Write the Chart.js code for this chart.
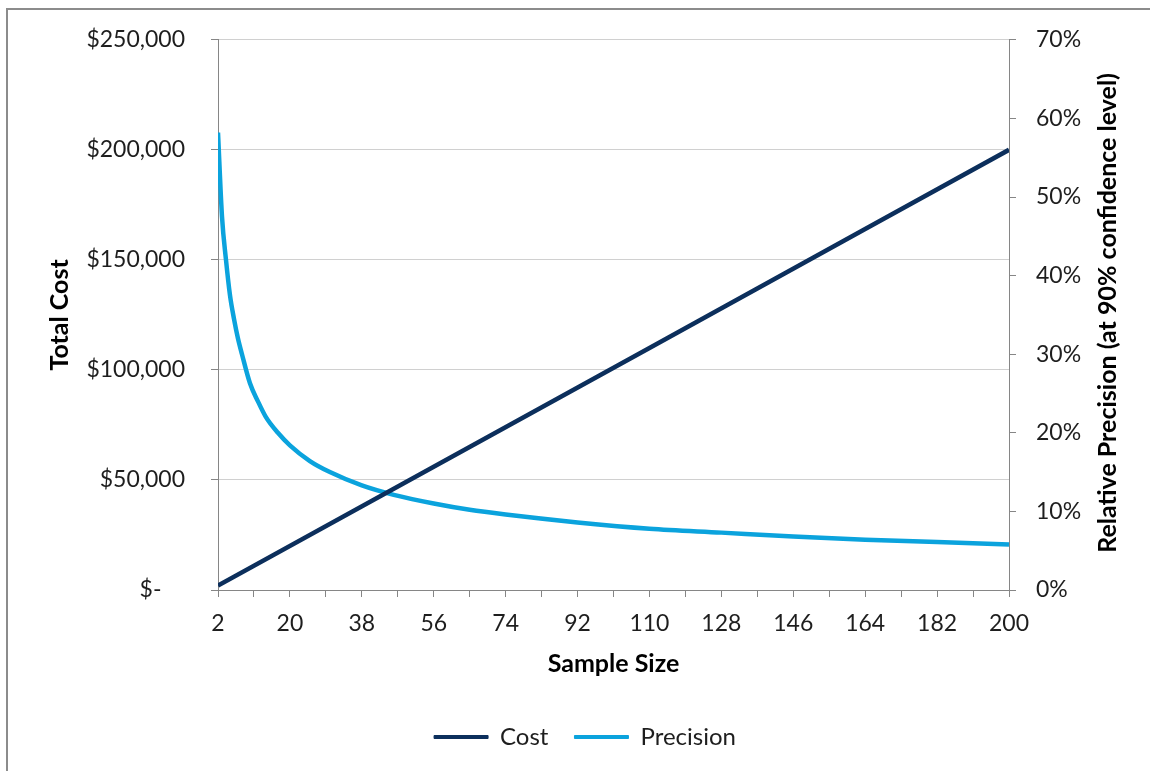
<!DOCTYPE html>
<html lang="en">
<head>
    <meta charset="UTF-8">
    <title>Sample Size: Cost vs Precision</title>
    <style>
        body {
            margin: 0;
            background: #fff;
        }

        .frame {
            position: absolute;
            left: 6px;
            top: 8px;
            width: 1200px;
            height: 800px;
            border-left: 2px solid #8c8c8c;
            border-top: 2px solid #8c8c8c;
        }

        .wrap {
            position: absolute;
            left: 0;
            top: 0;
            width: 1150px;
            height: 771px;
        }
    </style>
    <script src="https://cdn.jsdelivr.net/npm/chart.js"></script>
</head>
<body>
    <div class="frame"></div>
    <div class="wrap"><canvas id="chart" width="1150" height="771"></canvas></div>

    <script>
        // x axis: tick marks every 9, labels every 18
        const xTicks = [2, 11, 20, 29, 38, 47, 56, 65, 74, 83, 92, 101, 110, 119, 128, 137, 146, 155, 164, 173, 182, 191, 200];
        const xTickLabels = [2, 20, 38, 56, 74, 92, 110, 128, 146, 164, 182, 200];

        // Cost ($) - a straight line
        const costSizes = [2, 56, 110, 164, 200];
        const costValues = [2000, 56000, 110000, 164000, 200000];

        // Relative precision (%)
        const precisionSizes = [2, 3, 4, 5, 6, 7, 8, 10, 12, 14, 17, 20, 25, 30, 38, 46, 56, 65, 74, 92, 110, 128, 146, 164, 182, 200];
        const precisionValues = [58.2, 47.5, 42.0, 37.5, 34.5, 32.0, 30.0, 26.3, 24.0, 22.0, 20.0, 18.4, 16.4, 15.0, 13.3, 12.1, 11.0, 10.2, 9.6, 8.6, 7.8, 7.3, 6.8, 6.4, 6.1, 5.8];

        const FONT = 'Lato, "Open Sans", sans-serif';
        const AXIS_GREY = '#868686';
        const TEXT = '#1e1e1e';

        Chart.defaults.font.family = FONT;
        Chart.defaults.font.size = 23;
        Chart.defaults.color = TEXT;

        // right axis title reads bottom-to-top, so draw it by hand
        const rightTitle = {
            id: 'rightTitle',
            afterDraw(chart) {
                const ctx = chart.ctx;
                const area = chart.chartArea;
                ctx.save();
                ctx.translate(1108, (area.top + area.bottom) / 2 - 2);
                ctx.rotate(-Math.PI / 2);
                ctx.font = 'bold 25px ' + FONT;
                ctx.fillStyle = '#000';
                ctx.textAlign = 'center';
                ctx.textBaseline = 'middle';
                ctx.fillText('Relative Precision (at 90% confidence level)', 0, 0);
                ctx.restore();
            }
        };

        new Chart(document.getElementById('chart'), {
            type: 'line',
            data: {
                datasets: [{
                    label: 'Cost',
                    data: costSizes.map((x, i) => ({ x: x, y: costValues[i] })),
                    borderColor: '#0c2f5c',
                    backgroundColor: '#0c2f5c',
                    borderWidth: 4.5,
                    pointRadius: 0,
                    yAxisID: 'y'
                }, {
                    label: 'Precision',
                    data: precisionSizes.map((x, i) => ({ x: x, y: precisionValues[i] })),
                    borderColor: '#0ba3dd',
                    backgroundColor: '#0ba3dd',
                    borderWidth: 4.5,
                    pointRadius: 0,
                    cubicInterpolationMode: 'monotone',
                    yAxisID: 'y1'
                }]
            },
            options: {
                responsive: false,
                animation: false,
                devicePixelRatio: 1,
                layout: {
                    padding: { left: 20, right: 0, top: 39, bottom: 12 }
                },
                plugins: {
                    legend: {
                        position: 'bottom',
                        labels: {
                            boxWidth: 54,
                            boxHeight: 3,
                            padding: 26,
                            color: TEXT,
                            font: { size: 24 },
                            // thin line swatch instead of a thick outlined box
                            generateLabels: chart => Chart.defaults.plugins.legend.labels.generateLabels(chart)
                                .map(item => Object.assign(item, { lineWidth: 1 }))
                        }
                    },
                    tooltip: { enabled: false }
                },
                scales: {
                    x: {
                        type: 'linear',
                        min: 2,
                        max: 200,
                        afterBuildTicks: scale => {
                            scale.ticks = xTicks.map(v => ({ value: v }));
                        },
                        afterFit: scale => { scale.height = 109; },
                        ticks: {
                            autoSkip: false,
                            maxRotation: 0,
                            padding: 13,
                            callback: v => xTickLabels.includes(v) ? String(v) : ''
                        },
                        grid: {
                            drawOnChartArea: false,
                            tickLength: 7,
                            color: AXIS_GREY
                        },
                        border: { color: AXIS_GREY },
                        title: {
                            display: true,
                            text: 'Sample Size',
                            color: '#000',
                            font: { weight: 'bold', size: 25 },
                            padding: { top: 0, bottom: 20 }
                        }
                    },
                    y: {
                        position: 'left',
                        min: 0,
                        max: 250000,
                        afterFit: scale => { scale.width = 198; },
                        ticks: {
                            stepSize: 50000,
                            padding: 26,
                            callback: v => v === 0 ? '$-    ' : '$' + v.toLocaleString('en-US')
                        },
                        grid: {
                            color: '#d0d0d0',
                            tickColor: AXIS_GREY,
                            tickLength: 7
                        },
                        border: { color: AXIS_GREY },
                        title: {
                            display: true,
                            text: 'Total Cost',
                            color: '#000',
                            font: { weight: 'bold', size: 25 },
                            padding: { top: 25, bottom: 0 }
                        }
                    },
                    y1: {
                        position: 'right',
                        min: 0,
                        max: 70,
                        afterFit: scale => { scale.width = 141; },
                        ticks: {
                            stepSize: 10,
                            padding: 20,
                            callback: v => v + '%'
                        },
                        grid: {
                            drawOnChartArea: false,
                            tickColor: AXIS_GREY,
                            tickLength: 7
                        },
                        border: { color: AXIS_GREY }
                    }
                }
            },
            plugins: [rightTitle]
        });
    </script>
</body>
</html>
